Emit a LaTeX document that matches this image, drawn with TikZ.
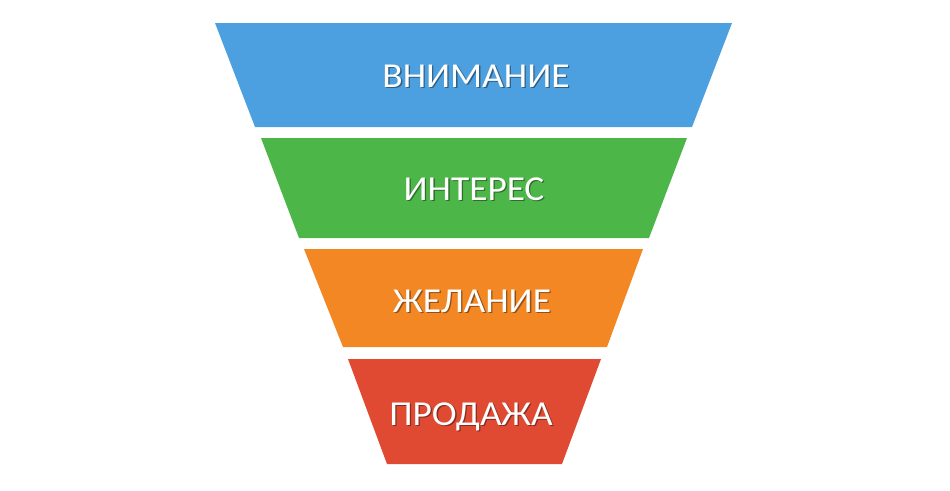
\documentclass[tikz,border=0pt]{standalone}
\usepackage{fontspec}
\setmainfont{Carlito}
\newfontfamily\stagefont[FakeStretch=1.07]{Carlito}
\usepackage{tikz}
\usetikzlibrary{positioning}
\usepackage{xcolor}
\definecolor{blueband}{HTML}{4DA0E0}
\definecolor{greenband}{HTML}{4DB648}
\definecolor{orangeband}{HTML}{F28724}
\definecolor{redband}{HTML}{E04A32}
\newcommand{\shadowlabel}[2]{\makebox[0pt][l]{\hspace{1.3pt}\raisebox{-1.6pt}{\color{#1!60!black}#2}}#2}

\begin{document}
\begin{tikzpicture}[x=1pt, y=-1pt,
   stagetext/.style={text=white, font=\stagefont\fontsize{35}{35}\selectfont,
                     anchor=base, inner sep=0pt}]
\useasboundingbox (0,0) rectangle (950,490);
%
\fill[blueband]   (215,23)  -- (732,23)  -- (692,127) -- (255,127) -- cycle;
\fill[greenband]  (261,138) -- (687,138) -- (649,238) -- (299,238) -- cycle;
\fill[orangeband] (304,249) -- (643,249) -- (607,347) -- (343,347) -- cycle;
\fill[redband]    (348,359) -- (601,359) -- (562,464) -- (387,464) -- cycle;
%
\node[stagetext] (attention) at (476,87)  {\shadowlabel{blueband}{ВНИМАНИЕ}};
\node[stagetext] (interest)  at (474,200) {\shadowlabel{greenband}{ИНТЕРЕС}};
\node[stagetext] (desire)    at (472,312) {\shadowlabel{orangeband}{ЖЕЛАНИЕ}};
\node[stagetext] (sale)      at (471,425) {\shadowlabel{redband}{ПРОДАЖА}};
%
\end{tikzpicture}
\end{document}
